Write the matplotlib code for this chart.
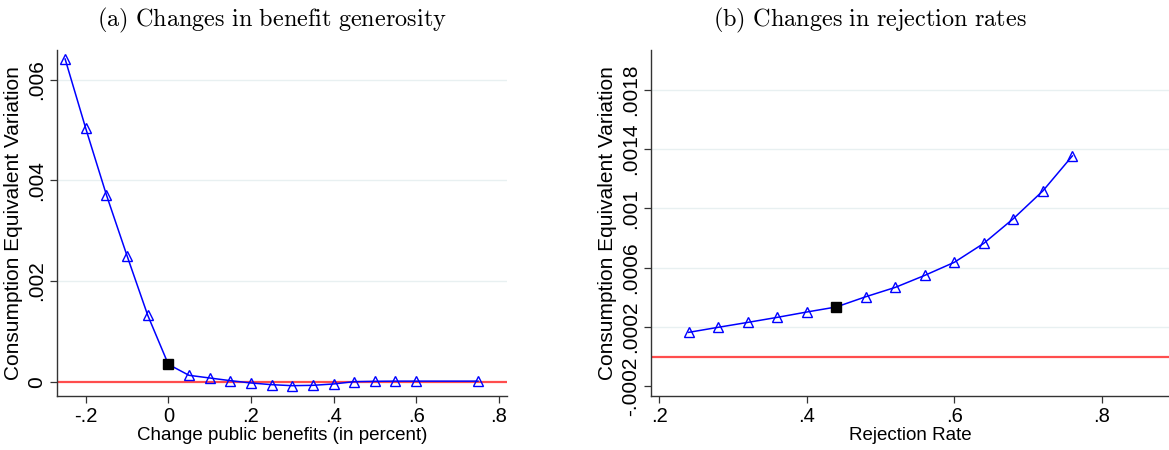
import numpy as np
import matplotlib.pyplot as plt

plt.rcParams["font.family"] = ["Liberation Sans", "DejaVu Sans"]
plt.rcParams["mathtext.fontset"] = "cm"

# Panel (a): change in public benefits vs consumption equivalent variation
benefit_change = [-0.25, -0.20, -0.15, -0.10, -0.05, 0.0, 0.05, 0.10, 0.15, 0.20,
                  0.25, 0.30, 0.35, 0.40, 0.45, 0.50, 0.55, 0.60, 0.75]
benefit_cev = [0.00641, 0.00503, 0.00371, 0.00250, 0.00132, 0.000344, 0.000126,
               0.000073, 0.00002, -0.000026, -0.00006, -0.00008, -0.000073,
               -0.000046, 0.0, 0.000007, 0.00001, 0.00001, 0.00001]
benefit_base = 0.0
benefit_yticks = [0, 0.002, 0.004, 0.006]
benefit_yticklabels = ["0", ".002", ".004", ".006"]
benefit_xticks = [-0.2, 0, 0.2, 0.4, 0.6, 0.8]
benefit_xticklabels = ["-.2", "0", ".2", ".4", ".6", ".8"]

# Panel (b): rejection rate vs consumption equivalent variation
reject_rate = [0.24, 0.28, 0.32, 0.36, 0.40, 0.44, 0.48, 0.52, 0.56, 0.60,
               0.64, 0.68, 0.72, 0.76]
reject_cev = [0.000164, 0.000198, 0.000231, 0.000265, 0.000301, 0.000335,
              0.000404, 0.000467, 0.000548, 0.000636, 0.000764, 0.000930,
              0.001117, 0.001353]
reject_base = 0.44
reject_yticks = [-0.0002, 0.0002, 0.0006, 0.001, 0.0014, 0.0018]
reject_yticklabels = ["-.0002", ".0002", ".0006", ".001", ".0014", ".0018"]
reject_xticks = [0.2, 0.4, 0.6, 0.8]
reject_xticklabels = [".2", ".4", ".6", ".8"]

BLUE = "#0000ff"
RED = "#ff4d4d"
GRID = "#e8f0f1"

fig = plt.figure(figsize=(11.69, 4.5), dpi=100)
ax1 = fig.add_axes([0.049, 0.12, 0.385, 0.769])
ax2 = fig.add_axes([0.557, 0.12, 0.443, 0.769])


def draw_panel(ax, x, y, base_x, yticks, yticklabels, xticks, xticklabels, grid_ticks):
    x = np.asarray(x)
    y = np.asarray(y)
    ax.axhline(0, color=RED, linewidth=1.6, zorder=2)
    for gy in grid_ticks:
        ax.axhline(gy, color=GRID, linewidth=1.0, zorder=1)
    ax.plot(x, y, color=BLUE, linewidth=1.1, zorder=3)
    mask = ~np.isclose(x, base_x)
    ax.plot(x[mask], y[mask], linestyle="none", marker="^", markersize=7.5,
            markerfacecolor="none", markeredgecolor=BLUE, markeredgewidth=1.0, zorder=4)
    ax.plot(x[~mask], y[~mask], linestyle="none", marker="s", markersize=6.5,
            color="black", zorder=5)
    ax.set_yticks(yticks)
    ax.set_yticklabels(yticklabels, rotation=90, va="center")
    ax.set_xticks(xticks)
    ax.set_xticklabels(xticklabels)
    for side in ["top", "right"]:
        ax.spines[side].set_visible(False)
    for side in ["left", "bottom"]:
        ax.spines[side].set_color("#333333")
        ax.spines[side].set_linewidth(1.0)
    ax.tick_params(axis="y", labelsize=15, length=5, width=0.9, color="#333333", pad=3)
    ax.tick_params(axis="x", labelsize=14.5, length=5, width=0.9, color="#333333", pad=3)
    ax.set_ylabel("Consumption Equivalent Variation", fontsize=15, labelpad=3)


draw_panel(ax1, benefit_change, benefit_cev, benefit_base, benefit_yticks,
           benefit_yticklabels, benefit_xticks, benefit_xticklabels,
           [0.002, 0.004, 0.006])
ax1.set_xlim(-0.269, 0.821)
ax1.set_ylim(-0.000285, 0.00659)
ax1.set_xlabel("Change public benefits (in percent)", fontsize=13.5, labelpad=1)

draw_panel(ax2, reject_rate, reject_cev, reject_base, reject_yticks,
           reject_yticklabels, reject_xticks, reject_xticklabels,
           [0.0002, 0.0006, 0.001, 0.0014, 0.0018])
ax2.set_xlim(0.189, 0.891)
ax2.set_ylim(-0.000265, 0.002067)
ax2.set_xlabel("Rejection Rate", fontsize=13.5, labelpad=1)

fig.text(0.233, 0.955, r"$\mathrm{(a)\ Changes\ in\ benefit\ generosity}$",
         ha="center", va="center", fontsize=17.5)
fig.text(0.744, 0.955, r"$\mathrm{(b)\ Changes\ in\ rejection\ rates}$",
         ha="center", va="center", fontsize=17.5)

fig.savefig("out.png", dpi=100)
